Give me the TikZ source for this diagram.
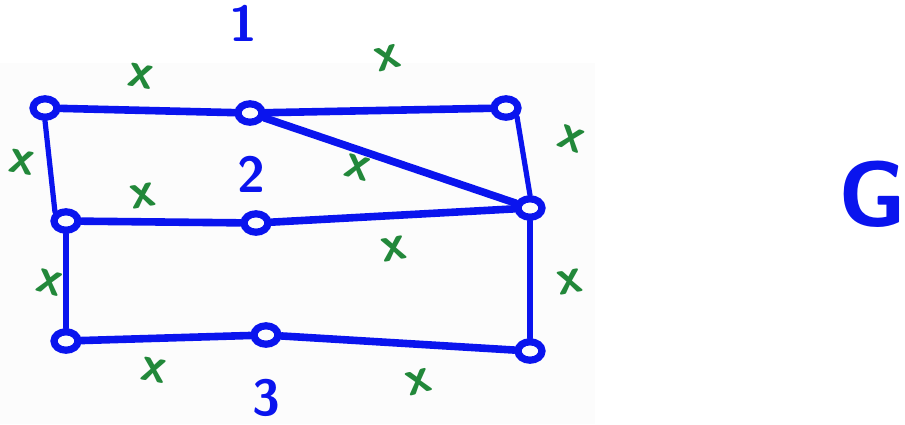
\documentclass[tikz,border=0pt]{standalone}
\usepackage{tikz}
\usetikzlibrary{shapes.geometric}
\definecolor{penblue}{HTML}{0A14EE}
\definecolor{pengreen}{HTML}{22883A}

\begin{document}
\begin{tikzpicture}[x=0.25mm,y=-0.25mm,font=\sffamily\bfseries,
  vtx/.style={ellipse,draw=penblue,line width=1.8mm,minimum width=6mm,minimum height=4.6mm,inner sep=0pt},
  edge/.style={penblue,line width=1.9mm,line cap=round},
  side/.style={penblue,line width=1.3mm,line cap=round},
  xmk/.style={pengreen,font=\fontsize{36}{36}\selectfont\sffamily\bfseries,inner sep=0pt},
  lab/.style={penblue,font=\fontsize{36}{36}\selectfont\sffamily\bfseries,inner sep=0pt}]
\useasboundingbox (0,0) rectangle (905,424);
\fill[black!1] (0,63) rectangle (595,424);
% vertices
\node[vtx] (a) at (45,108) {};
\node[vtx] (b) at (250,113) {};
\node[vtx] (c) at (506,108) {};
\node[vtx] (d) at (66,221) {};
\node[vtx] (e) at (256,223) {};
\node[vtx] (f) at (530,208) {};
\node[vtx] (h) at (66,341) {};
\node[vtx] (i) at (266,335) {};
\node[vtx] (j) at (530,351) {};
% edges
\draw[edge] (a)--(b);
\draw[edge] (b)--(c);
\draw[edge] (b)--(f);
\draw[edge] (d)--(e);
\draw[edge] (e)--(f);
\draw[edge] (h)--(i);
\draw[edge] (i)--(j);
\draw[side] (a.south)--(d.north west);
\draw[side] (d.south)--(h.north);
\draw[side] (c.south east)--(f.north);
\draw[side] (f.south)--(j.north);
% crosses
\foreach \nm/\px/\py/\rot in {1/141/76/-10,2/388/58/15,3/571/139/-20,4/22/162/-10,5/143/196/10,
  6/358/168/-15,7/394/249/10,8/50/283/-15,9/570/282/10,10/154/370/-10,11/419/382/15}
  {\node[xmk,rotate=\rot] (m\nm) at (\px,\py) {x};}
% labels
\node[lab] (one) at (243,23) {1};
\node[lab] (two) at (251,174) {2};
\node[lab] (three) at (266,398) {3};
\node[lab,font=\fontsize{66}{66}\selectfont\sffamily\bfseries] (g) at (872,194) {G};
\end{tikzpicture}
\end{document}
